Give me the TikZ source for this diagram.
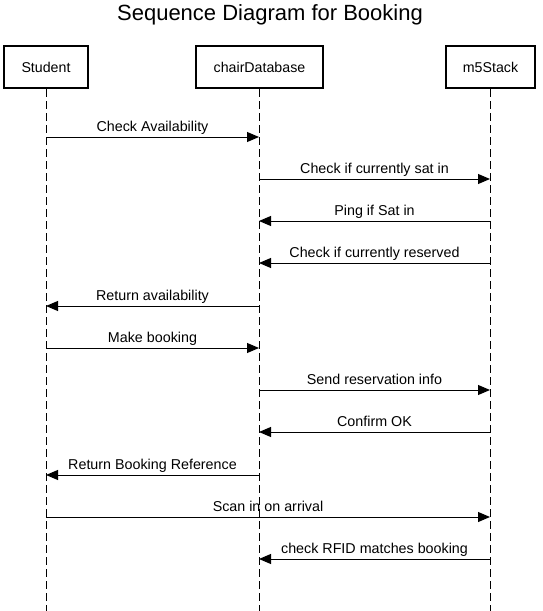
\documentclass[tikz,border=0pt]{standalone}
\usepackage{fontspec}
\setmainfont{Liberation Sans}
\usetikzlibrary{arrows.meta}
\begin{document}
\begin{tikzpicture}[x=1pt,y=-1pt,
  actor/.style={draw,line width=2.2pt,minimum height=42pt,inner sep=0pt,font=\fontsize{14.2}{16}\selectfont},
  life/.style={line width=1pt,dash pattern=on 8pt off 4pt},
  msg/.style={line width=1pt,-{Triangle[length=12pt,width=10pt]}},
  lbl/.style={above=2.5pt,font=\fontsize{14.3}{16}\selectfont,inner sep=0pt,text height=10.3pt,text depth=3pt}]
\useasboundingbox (0,0) rectangle (543,611);
\node[font=\fontsize{22}{24}\selectfont] (title) at (270,15) {Sequence Diagram for Booking};
\node[actor,minimum width=84pt] (s) at (46,67) {Student};
\node[actor,minimum width=127pt] (c) at (259.5,67) {chairDatabase};
\node[actor,minimum width=89pt] (m) at (490.5,67) {m5Stack};
\coordinate (sb) at (46,611);
\coordinate (cb) at (259,611);
\coordinate (mb) at (490,611);
\draw[life] (s.south -| 46,0) -- (sb);
\draw[life] (c.south -| 259,0) -- (cb);
\draw[life] (m.south -| 490,0) -- (mb);
% messages
\foreach \y/\from/\to/\txt/\n in {
 137/46/259/Check Availability/a1,
 179/259/490/Check if currently sat in/a2,
 221/490/259/Ping if Sat in/a3,
 263/490/259/Check if currently reserved/a4,
 306/259/46/Return availability/a5,
 348/46/259/Make booking/a6,
 390/259/490/Send reservation info/a7,
 432/490/259/Confirm OK/a8,
 475/259/46/Return Booking Reference/a9,
 517/46/490/Scan in on arrival/a10,
 559/490/259/check RFID matches booking/a11}{
  \coordinate (\n s) at (\from,\y);
  \coordinate (\n e) at (\to,\y);
  \draw[msg] (\n s) -- node[lbl] {\txt} (\n e);
}
\end{tikzpicture}
\end{document}
